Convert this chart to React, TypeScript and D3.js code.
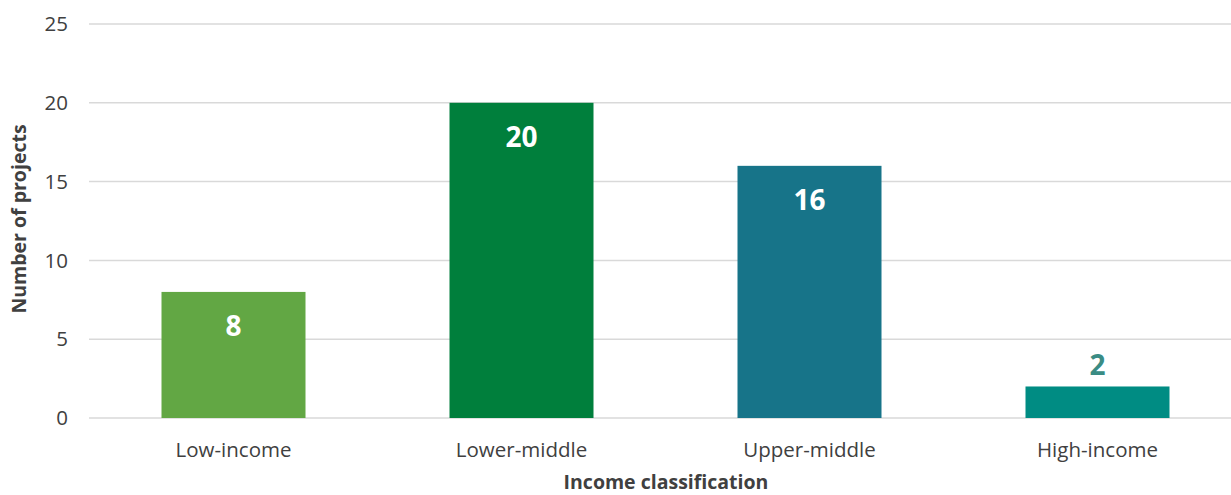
import React from "react";
import * as d3 from "d3";

const categories = ["Low-income", "Lower-middle", "Upper-middle", "High-income"];
const projectCounts = [8, 20, 16, 2];
const barColors = ["#62A744", "#007F3C", "#177489", "#008C83"];
const yTicks = [0, 5, 10, 15, 20, 25];

const W = 1231;
const H = 495;
const FONT = "'Open Sans', 'Noto Sans', sans-serif";

export default function App() {
  const x = d3.scaleBand<string>().domain(categories).range([89.5, 1241.5]).paddingInner(0.5).paddingOuter(0.25);
  const y = d3.scaleLinear().domain([0, 25]).range([418, 24]);

  return (
    <svg width={W} height={H} style={{ position: "absolute", left: 0, top: 0, background: "#fff" }}>
      {yTicks.map((t) => (
        <g key={t}>
          <line x1={89} x2={W} y1={y(t)} y2={y(t)} stroke="#d9d9d9" strokeWidth={1.5} />
          <text x={68} y={y(t)} dy="0.35em" textAnchor="end" fontFamily={FONT} fontSize={20.5} fill="#404040">
            {t}
          </text>
        </g>
      ))}
      {categories.map((c, i) => {
        const v = projectCounts[i];
        const bx = x(c)!;
        const bw = x.bandwidth();
        const top = y(v);
        const inside = v >= 5;
        return (
          <g key={c}>
            <rect x={bx} y={top} width={bw} height={y(0) - top} fill={barColors[i]} />
            <text
              x={bx + bw / 2}
              y={inside ? top + 34 : top - 21}
              dy="0.35em"
              textAnchor="middle"
              fontFamily={FONT}
              fontWeight="bold"
              fontSize={28}
              fill={inside ? "#ffffff" : "#3A8C84"}
            >
              {v}
            </text>
            <text x={bx + bw / 2} y={450} dy="0.35em" textAnchor="middle" fontFamily={FONT} fontSize={20.5} fill="#404040">
              {c}
            </text>
          </g>
        );
      })}
      <text
        transform={`translate(19,${y(12.5) - 2}) rotate(-90)`}
        textAnchor="middle"
        dy="0.35em"
        fontFamily={FONT}
        fontWeight="bold"
        fontSize={19.5}
        fill="#404040"
      >
        Number of projects
      </text>
      <text x={666} y={482} dy="0.35em" textAnchor="middle" fontFamily={FONT} fontWeight="bold" fontSize={19.5} fill="#404040">
        Income classification
      </text>
    </svg>
  );
}
